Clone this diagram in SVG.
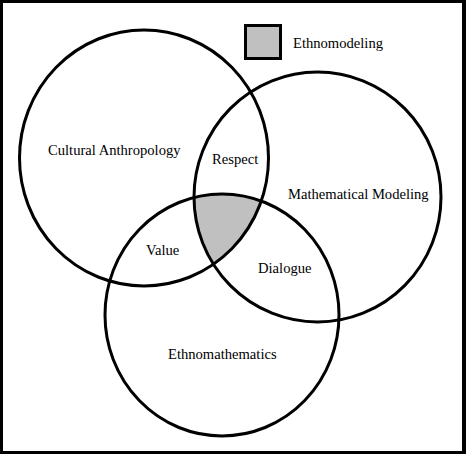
<svg xmlns="http://www.w3.org/2000/svg" width="466" height="454" viewBox="0 0 466 454">
<style>
.ring{fill:none;stroke:#000;stroke-width:3}
.lbl{font-family:"Liberation Serif","Times New Roman",serif;font-size:14.6px;fill:#000}
</style>
<defs>
<clipPath id="clipA"><ellipse cx="144" cy="158" rx="124.5" ry="128"/></clipPath>
<clipPath id="clipB"><ellipse cx="317.5" cy="197" rx="123.5" ry="125"/></clipPath>
</defs>
<rect x="0" y="0" width="466" height="454" fill="#000"/>
<rect x="3" y="3" width="459" height="448" fill="#fff"/>
<g id="ethnomodeling-region" clip-path="url(#clipB)">
<ellipse cx="222" cy="315" rx="117" ry="121" fill="#C0C0C0" clip-path="url(#clipA)"/>
</g>
<g id="cultural-anthropology">
<ellipse class="ring" cx="144" cy="158" rx="124.5" ry="128"/>
<text class="lbl" x="48" y="155">Cultural Anthropology</text>
</g>
<g id="mathematical-modeling">
<ellipse class="ring" cx="317.5" cy="197" rx="123.5" ry="125"/>
<text class="lbl" x="288" y="199">Mathematical Modeling</text>
</g>
<g id="ethnomathematics">
<ellipse class="ring" cx="222" cy="315" rx="117" ry="121"/>
<text class="lbl" x="168" y="359">Ethnomathematics</text>
</g>
<g id="overlap-labels">
<text class="lbl" x="212" y="164">Respect</text>
<text class="lbl" x="146" y="255">Value</text>
<text class="lbl" x="258" y="273">Dialogue</text>
</g>
<g id="legend">
<rect x="245.5" y="25.5" width="35" height="33" fill="#C0C0C0" stroke="#000" stroke-width="3"/>
<text class="lbl" x="293" y="48">Ethnomodeling</text>
</g>
<g id="connectors"/>
</svg>
